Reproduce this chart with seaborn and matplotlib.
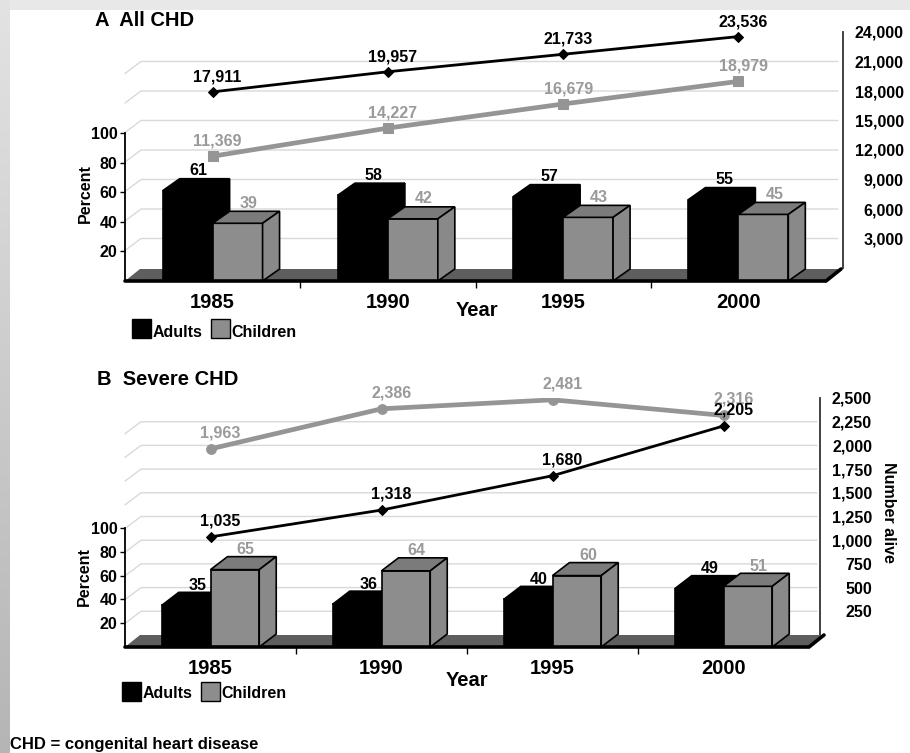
import numpy as np
import pandas as pd
import matplotlib
matplotlib.use("Agg")
import matplotlib.pyplot as plt
from matplotlib.patches import Polygon, Rectangle
import seaborn as sns

# ---------------------------------------------------------------- data
years = ["1985", "1990", "1995", "2000"]
groups = ["Adults", "Children"]

all_adults_pct = [61, 58, 57, 55]
all_children_pct = [39, 42, 43, 45]
all_adults_alive = [17911, 19957, 21733, 23536]
all_children_alive = [11369, 14227, 16679, 18979]

sev_adults_pct = [35, 36, 40, 49]
sev_children_pct = [65, 64, 60, 51]
sev_adults_alive = [1035, 1318, 1680, 2205]
sev_children_alive = [1963, 2386, 2481, 2316]

pct_ticks = [20, 40, 60, 80, 100]
all_alive_ticks = [3000, 6000, 9000, 12000, 15000, 18000, 21000, 24000]
sev_alive_ticks = [250, 500, 750, 1000, 1250, 1500, 1750, 2000, 2250, 2500]

# ---------------------------------------------------------------- style
W, H = 910, 753
sns.set_theme(style="white")
plt.rcParams["font.family"] = ["Liberation Sans", "DejaVu Sans"]
plt.rcParams["font.weight"] = "bold"
plt.rcParams["axes.labelweight"] = "bold"

BLACK = "#000000"
CHILD_FRONT = "#8d8d8d"
CHILD_TOP = "#7b7b7b"
CHILD_SIDE = "#898989"
CHILD_LINE = "#959595"
CHILD_TEXT = "#9a9a9a"
FLOOR = "#5e5e5e"
GRID = "#d9d9d9"

fig = plt.figure(figsize=(W / 100, H / 100), dpi=100, facecolor="white")

# light frame along the top and left edges
bg = fig.add_axes([0, 0, 1, 1], zorder=-10)
bg.axis("off")
frame = np.ones((H, W, 3))
frame[:10, :, :] = 0.91
shade = np.linspace(0.89, 0.71, H)[:, None, None]
frame[:, :10, :] = np.broadcast_to(shade, (H, 10, 1))
bg.imshow(frame, aspect="auto", extent=(0, W, H, 0), interpolation="bilinear")
bg.set_xlim(0, W)
bg.set_ylim(H, 0)


def fx(x):
    return x / W


def fy(y):
    return 1 - y / H


def layout_rect(left, top, right, bottom):
    return [left / W, 1 - bottom / H, (right - left) / W, (bottom - top) / H]


def draw_panel(lay, title, adults_pct, children_pct, adults_alive, children_alive,
               alive_ticks, child_marker, alive_label):
    left, right = lay["x0"], lay["x1"]
    px_cat = (right - left) / len(years)
    px_pct = (lay["pct_bottom"] - lay["pct_top"]) / 100.0
    alive_max = alive_ticks[-1]
    px_alive = (lay["alive_bottom"] - lay["alive_top"]) / alive_max

    ax_n = fig.add_axes(layout_rect(left, lay["alive_top"], right, lay["alive_bottom"]), zorder=1)
    ax_p = fig.add_axes(layout_rect(left, lay["pct_top"], right, lay["pct_bottom"]), zorder=2)
    for a in (ax_n, ax_p):
        a.patch.set_visible(False)

    # ---------------- number-alive axis (back wall) with lines
    pos = np.arange(len(years))
    sns.lineplot(x=pos, y=children_alive, ax=ax_n, color=CHILD_LINE, lw=3.4,
                 marker=child_marker, markersize=7, markeredgecolor=CHILD_LINE,
                 zorder=4)
    sns.lineplot(x=pos, y=adults_alive, ax=ax_n, color=BLACK, lw=2.0,
                 marker="D", markersize=5, markeredgecolor=BLACK, zorder=5)
    ax_n.set_xlim(-0.5, len(years) - 0.5)
    ax_n.set_ylim(0, alive_max)
    ax_n.set_xlabel("")
    ax_n.set_ylabel("")
    ax_n.set_xticks([])

    off = lay["spine_off"]
    g_dx = lay["grid_dx"] / px_cat
    g_dy = lay["grid_dy"] / px_alive
    x_back = -0.5 + g_dx
    x_end = len(years) - 0.5 + off / px_cat
    for v in alive_ticks[:-1]:
        ax_n.plot([-0.5, x_back, x_end], [v - g_dy, v, v], color=GRID, lw=1.0,
                  clip_on=False, zorder=0)

    for s in ("left", "top", "bottom"):
        ax_n.spines[s].set_visible(False)
    ax_n.spines["right"].set_position(("outward", off))
    ax_n.spines["right"].set_color("#333333")
    ax_n.spines["right"].set_linewidth(1.3)
    ax_n.yaxis.tick_right()
    ax_n.set_yticks(alive_ticks, [f"{v:,}" for v in alive_ticks])
    label_pad = (lay["alive_label_right"] - (right + off)) * 0.72
    ax_n.tick_params(axis="y", right=True, left=False, length=0, pad=label_pad,
                     labelsize=11.5, labelcolor=BLACK)
    plt.setp(ax_n.get_yticklabels(), ha="right")

    lx, ly = lay["line_label_off"]
    for i, v in enumerate(children_alive):
        ax_n.annotate(f"{v:,}", (pos[i], v), xytext=(lx, ly), textcoords="offset pixels",
                      ha="center", va="center", fontsize=11.5, color=CHILD_TEXT,
                      fontweight="bold", zorder=6)
    for i, v in enumerate(adults_alive):
        ax_n.annotate(f"{v:,}", (pos[i], v), xytext=(lx, ly), textcoords="offset pixels",
                      ha="center", va="center", fontsize=11.5, color=BLACK,
                      fontweight="bold", zorder=6)

    # ---------------- percent axis (front) with 3-D style bars
    df = pd.DataFrame({
        "Year": years * 2,
        "Group": ["Adults"] * len(years) + ["Children"] * len(years),
        "Percent": list(adults_pct) + list(children_pct),
    })
    sns.barplot(data=df, x="Year", y="Percent", hue="Group", order=years,
                hue_order=groups, palette={"Adults": BLACK, "Children": CHILD_FRONT},
                width=0.57, saturation=1, errorbar=None, legend=False,
                edgecolor=BLACK, linewidth=1.2, ax=ax_p)
    ax_p.set_xlim(-0.5, len(years) - 0.5)
    ax_p.set_ylim(0, 100)
    ax_p.set_xlabel("")
    ax_p.set_ylabel("")

    b_dx = lay["bar_dx"] / px_cat
    b_dy = lay["bar_dy"] / px_pct
    face_colors = [(BLACK, BLACK), (CHILD_TOP, CHILD_SIDE)]
    text_colors = [BLACK, CHILD_TEXT]
    values = [adults_pct, children_pct]
    for gi, cont in enumerate(ax_p.containers):
        z = 3 + gi
        top_c, side_c = face_colors[gi]
        for bi, bar in enumerate(cont):
            x0, w, h = bar.get_x(), bar.get_width(), bar.get_height()
            bar.set_zorder(z)
            ax_p.add_patch(Polygon(
                [(x0, h), (x0 + w, h), (x0 + w + b_dx, h + b_dy), (x0 + b_dx, h + b_dy)],
                closed=True, fc=top_c, ec=BLACK, lw=1.2, zorder=z + 0.1, clip_on=False))
            ax_p.add_patch(Polygon(
                [(x0 + w, 0), (x0 + w + b_dx, b_dy), (x0 + w + b_dx, h + b_dy), (x0 + w, h)],
                closed=True, fc=side_c, ec=BLACK, lw=1.2, zorder=z + 0.1, clip_on=False))
            ax_p.annotate(f"{values[gi][bi]}", (x0 + w / 2, h), xytext=(11, 20),
                          textcoords="offset pixels", ha="center", va="center",
                          fontsize=11.5, fontweight="bold", color=text_colors[gi],
                          zorder=7)

    # floor slab
    f_dx = lay["floor_dx"] / px_cat
    f_dy = lay["floor_dy"] / px_pct
    x_r = len(years) - 0.5
    ax_p.add_patch(Polygon([(-0.5, 0), (x_r, 0), (x_r + f_dx, f_dy), (-0.5 + f_dx, f_dy)],
                           closed=True, fc=FLOOR, ec="none", zorder=2, clip_on=False))
    ax_p.plot([-0.5, x_r, x_r + f_dx], [0, 0, f_dy], color=BLACK, lw=2.6,
              solid_joinstyle="miter", clip_on=False, zorder=8)

    for s in ("right", "top", "bottom"):
        ax_p.spines[s].set_visible(False)
    ax_p.spines["left"].set_color(BLACK)
    ax_p.spines["left"].set_linewidth(1.3)
    ax_p.set_yticks(pct_ticks, [str(t) for t in pct_ticks])
    ax_p.tick_params(axis="y", left=True, direction="out", length=3.5, width=1.0,
                     pad=2, labelsize=11.5, labelcolor=BLACK, color=BLACK)
    ax_p.set_xticks(range(len(years)), years)
    ax_p.set_xticks([0.5, 1.5, 2.5], minor=True)
    ax_p.tick_params(axis="x", which="major", bottom=True, length=0, pad=8.6,
                     labelsize=14.5, labelcolor=BLACK)
    ax_p.tick_params(axis="x", which="minor", bottom=True, direction="out",
                     length=5, width=1.0, color=BLACK)

    # ---------------- texts and legend
    tx, tb = lay["title_pos"]
    fig.text(fx(tx), fy(tb), title, fontsize=14.5, fontweight="bold", ha="left",
             va="baseline", color=BLACK)
    yx, yb = lay["year_pos"]
    fig.text(fx(yx), fy(yb), "Year", fontsize=14.5, fontweight="bold", ha="center",
             va="baseline", color=BLACK)
    px_, py_ = lay["percent_pos"]
    fig.text(fx(px_), fy(py_), "Percent", fontsize=11.5, fontweight="bold",
             rotation=90, ha="center", va="center", color=BLACK)
    if alive_label:
        ax_, ay_ = lay["alive_label_pos"]
        fig.text(fx(ax_), fy(ay_), "Number alive", fontsize=11.5, fontweight="bold",
                 rotation=270, ha="center", va="center", color=BLACK)

    lgx, lgy, lgb = lay["legend"]
    sq = 19
    for (sx, color, text, tx_) in [(lgx, BLACK, "Adults", lgx + 21),
                                   (lgx + 79, CHILD_FRONT, "Children", lgx + 99)]:
        fig.add_artist(Rectangle((fx(sx), fy(lgy + sq)), sq / W, sq / H,
                                 transform=fig.transFigure, fc=color, ec=BLACK, lw=1.0))
        fig.text(fx(tx_), fy(lgb), text, fontsize=11.5, fontweight="bold", ha="left",
                 va="baseline", color=BLACK)


layout_a = dict(
    x0=125, x1=826, pct_top=133, pct_bottom=281, alive_top=32, alive_bottom=268,
    spine_off=12, bar_dx=17, bar_dy=12, floor_dx=15, floor_dy=12,
    grid_dx=16, grid_dy=12, alive_label_right=899, line_label_off=(5, 15),
    title_pos=(95, 26), year_pos=(477, 316), percent_pos=(85, 194),
    alive_label_pos=(888, 150), legend=(132, 319, 337),
)
layout_b = dict(
    x0=125, x1=809, pct_top=528, pct_bottom=647, alive_top=398, alive_bottom=635,
    spine_off=8, bar_dx=17, bar_dy=13, floor_dx=15, floor_dy=12,
    grid_dx=16, grid_dy=12, alive_label_right=869, line_label_off=(10, 16),
    title_pos=(97, 385), year_pos=(467, 686), percent_pos=(84, 577),
    alive_label_pos=(889, 512), legend=(122, 682, 698),
)

draw_panel(layout_a, "A  All CHD", all_adults_pct, all_children_pct,
           all_adults_alive, all_children_alive, all_alive_ticks, "s", False)
draw_panel(layout_b, "B  Severe CHD", sev_adults_pct, sev_children_pct,
           sev_adults_alive, sev_children_alive, sev_alive_ticks, "o", True)

fig.text(fx(10), fy(749), "CHD = congenital heart disease", fontsize=12,
         fontweight="bold", ha="left", va="baseline", color=BLACK)

fig.savefig("out.png", dpi=100, facecolor="white")
